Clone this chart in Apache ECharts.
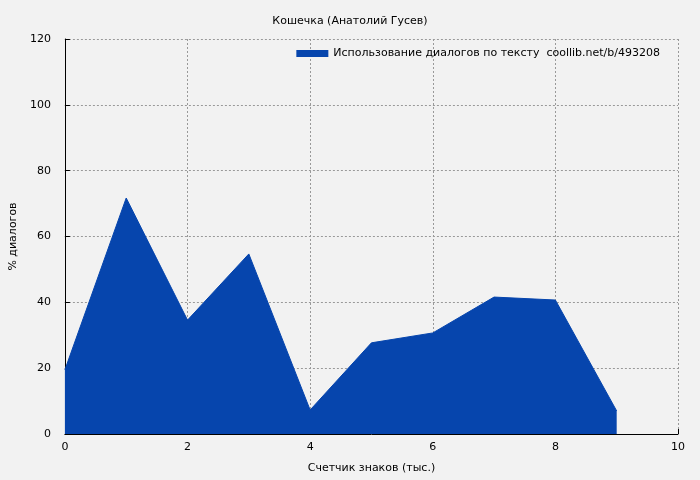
<!DOCTYPE html>
<html><head><meta charset="utf-8">
<script src="https://cdn.jsdelivr.net/npm/echarts@6/dist/echarts.min.js"></script>
<style>html,body{margin:0;padding:0;background:#f2f2f2}#c{width:700px;height:480px}</style>
</head><body><div id="c"></div>
<script>
const xValues = [0,1,2,3,4,5,6,7,8,9];
const dialogPct = [19.5,71.7,34.6,54.7,7.3,27.7,30.7,41.6,40.7,7.0];
const seriesName = 'Использование диалогов по тексту  coollib.net/b/493208';
const chart = echarts.init(document.getElementById('c'));
const font = 'DejaVu Sans';
chart.setOption({
  backgroundColor:'#f2f2f2',
  animation:false,
  title:{text:'Кошечка (Анатолий Гусев)',left:'center',top:11,textStyle:{fontFamily:font,fontSize:11,fontWeight:'normal',color:'#000'}},
  legend:{right:35,top:43,itemWidth:32,itemHeight:7,itemGap:6,align:'left',
    textStyle:{fontFamily:font,fontSize:11,color:'#000'},icon:'rect',data:[seriesName]},
  grid:{left:62,right:22,top:39,bottom:46},
  xAxis:{type:'value',min:0,max:10,interval:2,
    name:'Счетчик знаков (тыс.)',nameLocation:'middle',nameGap:29,
    nameTextStyle:{fontFamily:font,fontSize:11,color:'#000'},
    axisLine:{lineStyle:{color:'#000'}},axisTick:{inside:true,length:5,lineStyle:{color:'#000'}},
    axisLabel:{fontFamily:font,fontSize:11,color:'#000',margin:8},
    splitLine:{show:true,lineStyle:{color:'#999',type:[2,2]}}},
  yAxis:{type:'value',min:0,max:120,interval:20,
    name:'% диалогов',nameLocation:'middle',nameGap:45,
    nameTextStyle:{fontFamily:font,fontSize:11,color:'#000'},
    axisLine:{show:true,lineStyle:{color:'#000'}},axisTick:{show:true,inside:true,length:5,lineStyle:{color:'#000'}},
    axisLabel:{fontFamily:font,fontSize:11,color:'#000',margin:14},
    splitLine:{show:true,lineStyle:{color:'#999',type:[2,2]}}},
  series:[{name:seriesName,type:'line',data:xValues.map((x,i)=>[x,dialogPct[i]]),
    symbol:'none',lineStyle:{width:1,color:'#0645ad'},itemStyle:{color:'#0645ad'},
    areaStyle:{color:'#0645ad',opacity:1}}]
});
</script></body></html>
